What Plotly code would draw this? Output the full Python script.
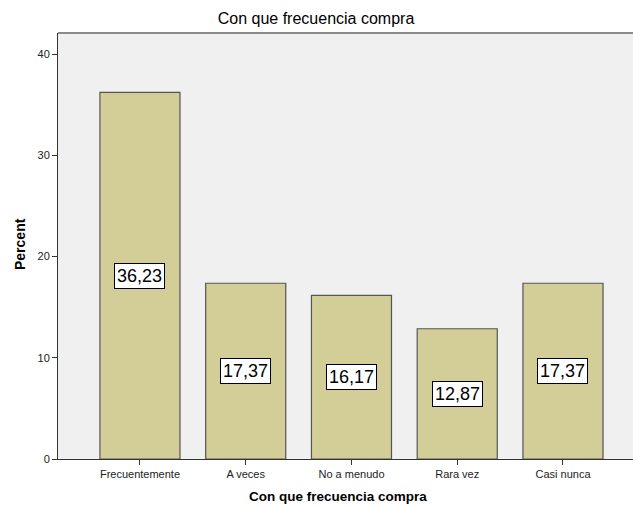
import plotly.graph_objects as go

categories = ["Frecuentemente", "A veces", "No a menudo", "Rara vez", "Casi nunca"]
percent = [36.23, 17.37, 16.17, 12.87, 17.37]
labels = ["36,23", "17,37", "16,17", "12,87", "17,37"]

fig = go.Figure()
fig.add_trace(go.Bar(
    x=categories, y=percent, width=0.757,
    marker=dict(color="#D3CE98", line=dict(color="#555555", width=1.2)),
    hoverinfo="skip",
))

for c, v, t in zip(categories, percent, labels):
    fig.add_annotation(
        x=c, y=v / 2, text=t, showarrow=False,
        font=dict(family="Arial, Liberation Sans", size=18, color="black"),
        bgcolor="white", bordercolor="black", borderwidth=1, borderpad=2,
    )

fig.add_shape(type="line", xref="paper", yref="paper", x0=0, x1=1, y0=1, y1=1,
              line=dict(color="#8a8a8a", width=2))

# axis titles as annotations for exact placement
fig.add_annotation(text="<b>Con que frecuencia compra</b>", xref="paper", yref="paper",
                   x=(338 - 58) / 575, y=-(496 - 459) / 426, xanchor="center", yanchor="middle",
                   showarrow=False, font=dict(family="Arial, Liberation Sans", size=13.5, color="black"))
fig.add_annotation(text="<b>Percent</b>", xref="paper", yref="paper",
                   x=-(58 - 20) / 575, y=(459 - 244) / 426, xanchor="center", yanchor="middle",
                   textangle=-90, showarrow=False,
                   font=dict(family="Arial, Liberation Sans", size=14, color="black"))

fig.update_layout(
    width=633, height=506,
    margin=dict(l=58, r=0, t=33, b=47, autoexpand=False),
    paper_bgcolor="white", plot_bgcolor="#F0F0F0",
    showlegend=False,
    title=dict(text="Con que frecuencia compra", x=316 / 633, xanchor="center",
               y=1 - 18 / 506, yanchor="middle",
               font=dict(family="Arial, Liberation Sans", size=16, color="black")),
    font=dict(family="Arial, Liberation Sans", color="#222222"),
)
fig.update_xaxes(
    range=[-0.775, 4.662], showgrid=False, showline=True, linecolor="#333333", linewidth=1,
    ticks="outside", ticklen=5, tickcolor="#333333", automargin=False,
    tickfont=dict(size=11, color="#222222"),
)
fig.update_yaxes(
    range=[0, 42.1], tickvals=[0, 10, 20, 30, 40], showgrid=False, zeroline=False,
    showline=True, linecolor="#333333", linewidth=1, automargin=False,
    ticks="outside", ticklen=5, tickcolor="#333333",
    tickfont=dict(size=11, color="#222222"),
)

fig.write_html("out.html", config={"displayModeBar": False},
               post_script="document.body.style.margin='0';")
